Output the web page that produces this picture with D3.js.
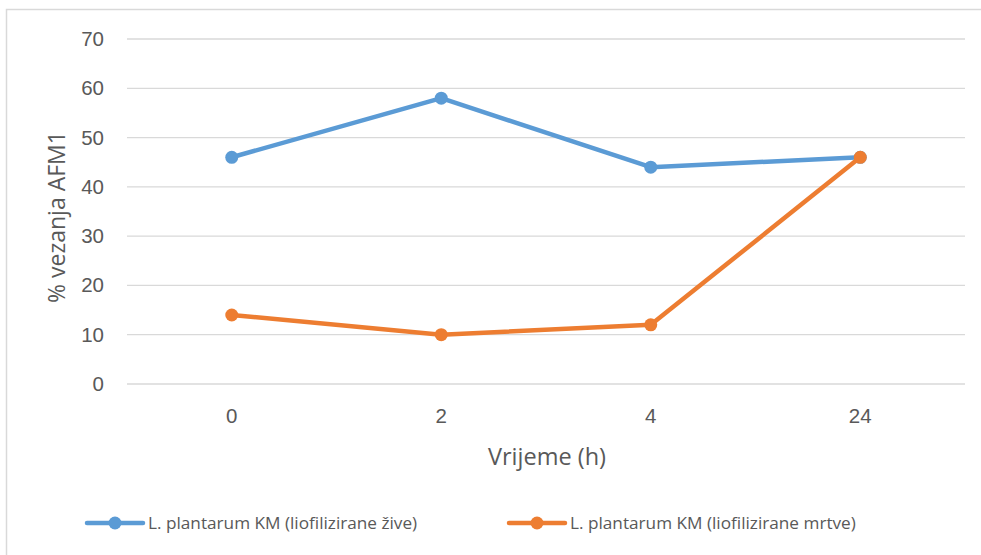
<!DOCTYPE html>
<html>
<head>
<meta charset="utf-8">
<script src="https://cdn.jsdelivr.net/npm/d3@7"></script>
<style>
  body { margin: 0; background: #fff; }
  svg { display: block; font-family: "Open Sans", "Liberation Sans", sans-serif; }
</style>
</head>
<body>
<svg id="chart" width="981" height="555"></svg>
<script>
const categories = ["0", "2", "4", "24"];
const yTicks = [0, 10, 20, 30, 40, 50, 60, 70];
const liveValues = [46, 58, 44, 46];
const deadValues = [14, 10, 12, 46];
const seriesNames = ["L. plantarum KM (liofilizirane žive)", "L. plantarum KM (liofilizirane mrtve)"];
const seriesColors = ["#5b9bd5", "#ed7d31"];

const svg = d3.select("#chart");
const width = 981, height = 555;
const margin = { top: 39, right: 16, bottom: 171, left: 127 };
const innerWidth = width - margin.left - margin.right;
const innerHeight = height - margin.top - margin.bottom;

// chart border (top and left edges visible)
svg.append("path")
    .attr("d", "M6.5,555 V9.5 H981")
    .attr("fill", "none")
    .attr("stroke", "#d9d9d9")
    .attr("stroke-width", 1.5);

const g = svg.append("g")
    .attr("transform", `translate(${margin.left},${margin.top})`);

const x = d3.scaleBand()
    .domain(categories)
    .range([0, innerWidth]);

const y = d3.scaleLinear()
    .domain([0, 70])
    .range([innerHeight, 0]);

// GRID
g.selectAll(".grid")
    .data(yTicks)
    .enter().append("line")
    .attr("x1", 0).attr("x2", innerWidth)
    .attr("y1", d => y(d)).attr("y2", d => y(d))
    .attr("stroke", "#d9d9d9")
    .attr("stroke-width", 1.3);

// Y AXIS
const yAxis = g.append("g")
    .call(d3.axisLeft(y).tickValues(yTicks).tickSize(0).tickPadding(23));
yAxis.select(".domain").remove();
yAxis.selectAll("text")
    .attr("fill", "#595959")
    .style("font-size", "20.5px");

// X AXIS
const xAxis = g.append("g")
    .attr("transform", `translate(0,${innerHeight})`)
    .call(d3.axisBottom(x).tickSize(0).tickPadding(24));
xAxis.select(".domain").remove();
xAxis.selectAll("text")
    .attr("fill", "#595959")
    .style("font-size", "20.5px");

// LINES
const series = [liveValues, deadValues];
const line = d3.line()
    .x((d, i) => x(categories[i]) + x.bandwidth() / 2)
    .y(d => y(d));

series.forEach((vals, si) => {
    g.append("path")
        .datum(vals)
        .attr("fill", "none")
        .attr("stroke", seriesColors[si])
        .attr("stroke-width", 4.5)
        .attr("stroke-linejoin", "round")
        .attr("stroke-linecap", "round")
        .attr("d", line);

    g.selectAll(".dot" + si)
        .data(vals)
        .enter().append("circle")
        .attr("cx", (d, i) => x(categories[i]) + x.bandwidth() / 2)
        .attr("cy", d => y(d))
        .attr("r", 6.5)
        .attr("fill", seriesColors[si]);
});

// LABELS
svg.append("text")
    .attr("x", 547)
    .attr("y", 465)
    .attr("text-anchor", "middle")
    .attr("fill", "#595959")
    .style("font-size", "23.5px")
    .text("Vrijeme (h)");

svg.append("text")
    .attr("transform", "translate(65,217) rotate(-90)")
    .attr("text-anchor", "middle")
    .attr("fill", "#595959")
    .style("font-size", "23px")
    .text("% vezanja AFM1");

// LEGEND
const legendX = [87, 509];
seriesNames.forEach((name, i) => {
    const lg = svg.append("g").attr("transform", `translate(${legendX[i]},523)`);
    lg.append("line")
        .attr("x1", 0).attr("x2", 56)
        .attr("stroke", seriesColors[i])
        .attr("stroke-width", 4.5)
        .attr("stroke-linecap", "round");
    lg.append("circle")
        .attr("cx", 28).attr("r", 6.5)
        .attr("fill", seriesColors[i]);
    lg.append("text")
        .attr("x", 61)
        .attr("dy", "0.35em")
        .attr("fill", "#595959")
        .style("font-size", "17.2px")
        .text(name);
});
</script>
</body>
</html>
